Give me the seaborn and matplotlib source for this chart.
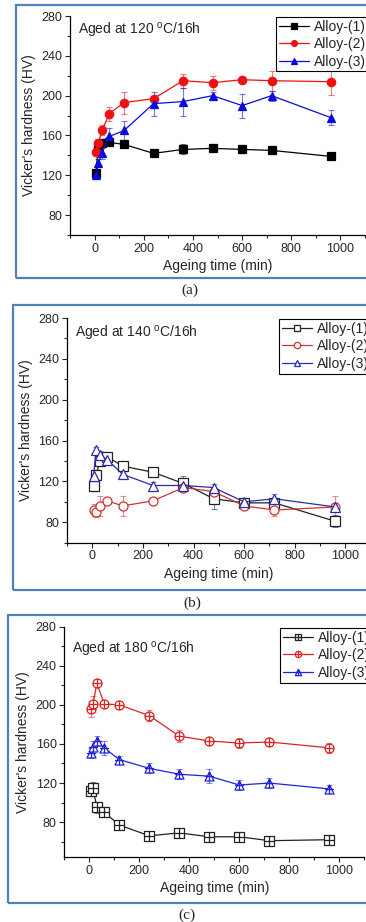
import numpy as np
import pandas as pd
import matplotlib
matplotlib.use("Agg")
import matplotlib.pyplot as plt
from matplotlib.path import Path
from matplotlib.patches import Rectangle
from matplotlib.ticker import MultipleLocator
import seaborn as sns

# ageing times (min)
TIME = [5, 15, 30, 60, 120, 240, 360, 480, 600, 720, 960]
ALLOYS = ["Alloy-(1)", "Alloy-(2)", "Alloy-(3)"]

# (a) aged at 120 C
A1_HV = [122, 148, 152, 153, 151, 142, 146, 147, 146, 145, 139]
A1_ERR = [3, 4, 4, 4, 4, 3, 5, 4, 4, 4, 3]
A2_HV = [143, 152, 165, 182, 193, 197, 215, 213, 216, 215, 214]
A2_ERR = [4, 4, 5, 7, 11, 3, 7, 7, 3, 10, 13]
A3_HV = [120, 132, 142, 159, 165, 192, 194, 200, 190, 200, 178]
A3_ERR = [3, 4, 6, 8, 10, 12, 14, 4, 12, 5, 8]

# (b) aged at 140 C
B1_HV = [116, 126, 140, 144, 135, 129, 118, 103, 99, 99, 81]
B1_ERR = [5, 5, 5, 4, 3, 3, 7, 10, 3, 4, 6]
B2_HV = [92, 90, 96, 101, 96, 101, 114, 110, 96, 92, 95]
B2_ERR = [6, 5, 10, 3, 10, 3, 3, 3, 3, 6, 11]
B3_HV = [125, 151, 146, 141, 127, 116, 116, 114, 100, 103, 95]
B3_ERR = [6, 3, 4, 5, 4, 3, 3, 3, 3, 5, 4]

# (c) aged at 180 C
C1_HV = [112, 115, 95, 90, 77, 66, 69, 65, 65, 61, 62]
C1_ERR = [4, 6, 6, 5, 3, 3, 3, 2, 2, 2, 2]
C2_HV = [196, 201, 222, 201, 200, 189, 168, 163, 161, 162, 156]
C2_ERR = [8, 8, 3, 3, 4, 6, 6, 3, 5, 4, 5]
C3_HV = [151, 157, 163, 156, 144, 135, 129, 127, 118, 120, 114]
C3_ERR = [5, 6, 5, 7, 4, 5, 5, 7, 5, 5, 4]

W, H = 366, 922

sns.set_style("ticks")
plt.rcParams["font.family"] = ["Liberation Sans", "DejaVu Sans"]
plt.rcParams["mathtext.fontset"] = "custom"
plt.rcParams["mathtext.rm"] = "Liberation Sans"


def px_box(left, top, right, bottom):
    return [left / W, 1 - bottom / H, (right - left) / W, (bottom - top) / H]


def px(x, y):
    return x / W, 1 - y / H


def plus_marker(outline):
    """Outline path with a cross drawn through it."""
    cross = Path([(-1, 0), (1, 0), (0, -1), (0, 1)],
                 [Path.MOVETO, Path.LINETO, Path.MOVETO, Path.LINETO])
    return Path.make_compound_path(outline, cross)


square = Path([(-1, -1), (1, -1), (1, 1), (-1, 1), (-1, -1)],
              [Path.MOVETO, Path.LINETO, Path.LINETO, Path.LINETO, Path.CLOSEPOLY])
triangle = Path([(0, 1), (-1, -1), (1, -1), (0, 1)],
                [Path.MOVETO, Path.LINETO, Path.LINETO, Path.CLOSEPOLY])
circle = Path.unit_circle()

panels = [
    dict(hv=[A1_HV, A2_HV, A3_HV], err=[A1_ERR, A2_ERR, A3_ERR],
         colors=["#000000", "#ee1111", "#0a0ae0"], markers=["s", "o", "^"], filled=True,
         msize=6, axes=(70, 16, 365, 235), ylim=(60, 280), temp="120",
         note=(78, 30), leg=(276, 17), frame=(16, 5, 278), tag="(a)", tagpos=(190, 290)),
    dict(hv=[B1_HV, B2_HV, B3_HV], err=[B1_ERR, B2_ERR, B3_ERR],
         colors=["#222222", "#cc3333", "#2a2aaa"], markers=["s", "o", "^"], filled=False,
         msize=6.5, axes=(67, 318, 370.6, 542.7), ylim=(60, 280), temp="140",
         note=(75, 333), leg=(279, 319), frame=(13, 305, 590), tag="(b)", tagpos=(192, 603)),
    dict(hv=[C1_HV, C2_HV, C3_HV], err=[C1_ERR, C2_ERR, C3_ERR],
         colors=["#222222", "#dd2222", "#2222dd"],
         markers=[plus_marker(square), plus_marker(circle), plus_marker(triangle)], filled=False,
         msize=6.5, axes=(64.3, 626.7, 364.3, 857.3), ylim=(44, 280), temp="180",
         note=(72, 649), leg=(280, 628), frame=(8, 615, 903), tag="(c)", tagpos=(187, 915)),
]

fig = plt.figure(figsize=(W / 100, H / 100), dpi=100)

for p in panels:
    ax = fig.add_axes(px_box(*p["axes"]))
    df = pd.DataFrame({
        "time": TIME * 3,
        "hv": np.concatenate(p["hv"]),
        "alloy": np.repeat(ALLOYS, len(TIME)),
    })
    sns.lineplot(data=df, x="time", y="hv", hue="alloy", style="alloy",
                 palette=dict(zip(ALLOYS, p["colors"])),
                 markers=dict(zip(ALLOYS, p["markers"])), dashes=False,
                 markersize=p["msize"], linewidth=0.9, legend=False, ax=ax)
    series_lines = list(ax.lines[:3])
    for line, col in zip(series_lines, p["colors"]):
        line.set_markeredgecolor(col)
        line.set_markeredgewidth(0.9)
        line.set_markerfacecolor(col if p["filled"] else "white")
        line.set_zorder(3)

    for hv, err, col in zip(p["hv"], p["err"], p["colors"]):
        ax.errorbar(TIME, hv, yerr=err, fmt="none", ecolor=col, alpha=0.55,
                    elinewidth=0.8, capsize=2, capthick=0.8, zorder=2)

    ax.set_xlim(-100, 1100)
    ax.set_ylim(*p["ylim"])
    ax.xaxis.set_major_locator(MultipleLocator(200))
    ax.xaxis.set_minor_locator(MultipleLocator(100))
    ax.yaxis.set_major_locator(MultipleLocator(40))
    ax.yaxis.set_minor_locator(MultipleLocator(20))
    ax.tick_params(which="major", direction="out", length=3.5, width=0.8, labelsize=9, pad=2)
    ax.tick_params(which="minor", direction="out", length=2, width=0.8)
    for side in ["top", "right"]:
        ax.spines[side].set_visible(False)
    for side in ["left", "bottom"]:
        ax.spines[side].set_linewidth(0.9)
        ax.spines[side].set_color("black")
    ax.set_xlabel("Ageing time (min)", fontsize=10, labelpad=3)
    ax.set_ylabel("Vicker's hardness (HV)", fontsize=10, labelpad=4)

    fig.text(*px(*p["note"]), "Aged at " + p["temp"] + r" $^{\rm o}$C/16h",
             fontsize=10, ha="left", va="center")

    leg = ax.legend(series_lines, ALLOYS, loc="upper left",
                    bbox_to_anchor=px(*p["leg"]), bbox_transform=fig.transFigure,
                    borderaxespad=0, fontsize=10, frameon=True, fancybox=False,
                    edgecolor="black", framealpha=1, handlelength=2.2,
                    handletextpad=0.3, labelspacing=0.25, borderpad=0.2,
                    markerscale=0.7)
    leg.get_frame().set_linewidth(0.8)

    fl, ft, fb = p["frame"]
    fig.add_artist(Rectangle(px(fl, fb), (W + 20 - fl) / W, (fb - ft) / H,
                             transform=fig.transFigure, fill=False,
                             edgecolor="#4f81bd", linewidth=1.6, zorder=10))
    fig.text(*px(*p["tagpos"]), p["tag"], fontsize=11, ha="center", va="center",
             family=["Liberation Serif", "DejaVu Serif"])

fig.savefig("out.png", dpi=100)
